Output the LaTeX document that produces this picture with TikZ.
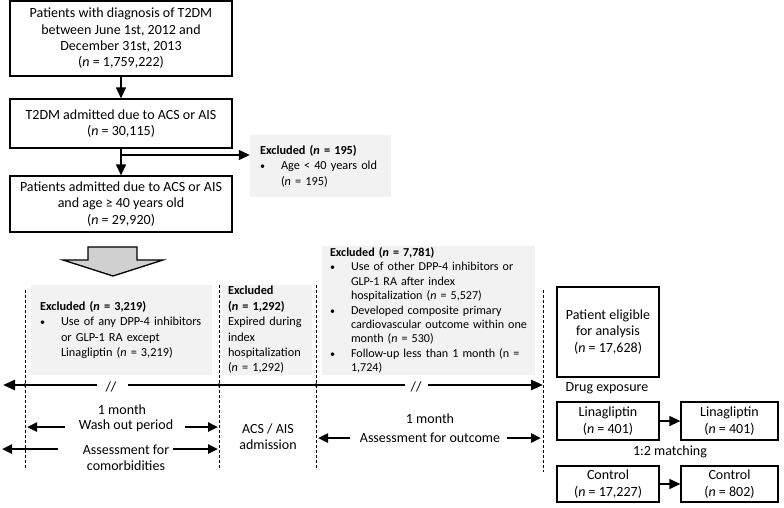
\documentclass[tikz,border=0pt]{standalone}
\usepackage{fontspec}
\setmainfont{Carlito}
\usetikzlibrary{arrows.meta}
\definecolor{boxgray}{RGB}{242,242,242}
\definecolor{arrowgray}{RGB}{208,208,208}
\newcommand\nn{\textit{n}}
\newcommand\bl{\makebox[21pt][l]{\fontsize{10}{10}\selectfont\textbullet}}
\newcommand\ind{\hspace*{21pt}}
\begin{document}
\begin{tikzpicture}[x=1pt,y=-1pt,
 mainbox/.style={draw,line width=1.3pt,inner sep=0pt,align=center,font=\fontsize{14}{16.3}\selectfont},
 graybox/.style={fill=boxgray,inner ysep=0pt,align=left,font=\fontsize{12.3}{15.4}\selectfont},
 flow/.style={line width=1.3pt,-{Triangle[length=11pt,width=10pt]}},
 tline/.style={line width=2.5pt,-{Triangle[length=12pt,width=10pt]}},
 tarrow/.style={line width=2.4pt,-{Triangle[length=10pt,width=9pt]}},
 vdash/.style={line width=0.8pt,dash pattern=on 3pt off 2pt},
 lbl/.style={font=\fontsize{14}{16.3}\selectfont,align=center,inner sep=0pt}]
\useasboundingbox (0,0) rectangle (784,507);

% top flow
\node[mainbox,minimum width=222pt,minimum height=75pt] (b1) at (121,38.5)
 {Patients with diagnosis of T2DM\\between June 1st, 2012 and\\December 31st, 2013\\(\nn{} = 1,759,222)};
\node[mainbox,minimum width=222pt,minimum height=49pt] (b2) at (121,123.5)
 {T2DM admitted due to ACS or AIS\\(\nn{} = 30,115)};
\node[mainbox,minimum width=222pt,minimum height=56pt] (b3) at (121,204)
 {Patients admitted due to ACS or AIS\\and age ≥ 40 years old\\(\nn{} = 29,920)};
\node[graybox,minimum width=141pt,minimum height=62pt,inner xsep=10pt,text width=121pt] (ex195) at (320.5,166)
 {{\bfseries Excluded (\nn{} = 195)}\\\bl Age < 40 years old\\\ind(\nn{} = 195)};

\draw[flow] (b1.south) -- (b2.north);
\draw[flow] (b2.south) -- (b3.north);
\coordinate (br) at (121,155);
\draw[flow] (br) -- (ex195.west |- br);

% block arrow
\draw[fill=arrowgray,line width=1.3pt] (88,247) -- (137,247) -- (137,260) -- (163,260) -- (113,276) -- (63,260) -- (88,260) -- cycle;

% excluded boxes on timeline
\node[graybox,minimum width=181pt,minimum height=90pt,inner xsep=9pt,text width=163pt] (ex3219) at (121.5,330)
 {{\bfseries Excluded (\nn{} = 3,219)}\\\bl Use of any DPP-4 inhibitors\\\ind or GLP-1 RA except\\\ind Linagliptin (\nn{} = 3,219)};
\node[graybox,minimum width=90pt,minimum height=90pt,inner xsep=6pt,text width=78pt] (ex1292) at (267,330)
 {{\bfseries Excluded}\\{\bfseries (\nn{} = 1,292)}\\Expired during\\index\\hospitalization\\(\nn{} = 1,292)};
\node[graybox,font=\fontsize{12.1}{14.4}\selectfont,minimum width=213pt,minimum height=129pt,inner xsep=8pt,text width=197pt] (ex7781) at (428.5,310.5)
 {{\bfseries Excluded (\nn{} = 7,781)}\\\bl Use of other DPP-4 inhibitors or\\\ind GLP-1 RA after index\\\ind hospitalization (\nn{} = 5,527)\\\bl Developed composite primary\\\ind\mbox{cardiovascular outcome within one}\\\ind month (\nn{} = 530)\\\bl Follow-up less than 1 month (n =\\\ind 1,724)};

% dashed verticals
\coordinate (v1t) at (25,290); \coordinate (v1b) at (25,470);
\coordinate (v2t) at (219,285); \coordinate (v2b) at (219,468);
\coordinate (v3t) at (316,285); \coordinate (v3b) at (316,468);
\coordinate (v4t) at (543,290); \coordinate (v4b) at (543,472);
\draw[vdash] (v1t) -- (v1b);
\draw[vdash] (v2t) -- (v2b);
\draw[vdash] (v3t) -- (v3b);
\draw[vdash] (v4t) -- (v4b);

% timeline
\coordinate (tL) at (3,385); \coordinate (g1a) at (97,385); \coordinate (g1b) at (128,385);
\coordinate (g2a) at (405,385); \coordinate (g2b) at (428,385); \coordinate (tR) at (543,385);
\draw[tline] (g1a) -- (tL);
\draw[line width=2.5pt] (g1b) -- (g2a);
\draw[tline] (g2b) -- (tR);
\node[lbl] (s1) at (111,387) {//};
\node[lbl] (s2) at (416,387) {//};
\fill (25,385) circle (1.8pt);
\fill (219,385) circle (1.8pt);
\fill (316,385) circle (1.8pt);

% timeline labels
\node[lbl] (m1) at (122,410) {1 month};
\node[lbl] (wash) at (126,426) {Wash out period};
\node[lbl] (comorb) at (126,457.5) {Assessment for\\comorbidities};
\node[lbl] (acs) at (268,437) {ACS / AIS\\admission};
\node[lbl] (m2) at (430,419) {1 month};
\node[lbl] (outc) at (430,438) {Assessment for outcome};

\coordinate (w1t) at (65,427); \coordinate (w1h) at (27,427);
\coordinate (w2t) at (185,427); \coordinate (w2h) at (218,427);
\coordinate (c1t) at (58,449); \coordinate (c1h) at (2,449);
\coordinate (c2t) at (173,449); \coordinate (c2h) at (218,449);
\coordinate (o1t) at (350,438); \coordinate (o1h) at (318,438);
\coordinate (o2t) at (507,438); \coordinate (o2h) at (541,438);
\draw[tarrow] (w1t) -- (w1h);
\draw[tarrow] (w2t) -- (w2h);
\draw[tarrow] (c1t) -- (c1h);
\draw[tarrow] (c2t) -- (c2h);
\draw[tarrow] (o1t) -- (o1h);
\draw[tarrow] (o2t) -- (o2h);

% right side
\node[mainbox,minimum width=102pt,minimum height=90pt] (elig) at (608,332)
 {Patient eligible\\for analysis\\(\nn{} = 17,628)};
\node[lbl] (drug) at (607,388) {Drug exposure};
\node[mainbox,minimum width=102pt,minimum height=38pt] (lin1) at (608,421)
 {Linagliptin\\(\nn{} = 401)};
\node[mainbox,minimum width=97pt,minimum height=38pt] (lin2) at (729.5,421)
 {Linagliptin\\(\nn{} = 401)};
\node[lbl] (match) at (670,452) {1:2 matching};
\node[mainbox,minimum width=102pt,minimum height=36pt] (ctrl1) at (608,484)
 {Control\\(\nn{} = 17,227)};
\node[mainbox,minimum width=97pt,minimum height=36pt] (ctrl2) at (729.5,484)
 {Control\\(\nn{} = 802)};
\draw[flow] (lin1.east) -- (lin2.west);
\draw[flow] (ctrl1.east) -- (ctrl2.west);
\end{tikzpicture}
\end{document}
